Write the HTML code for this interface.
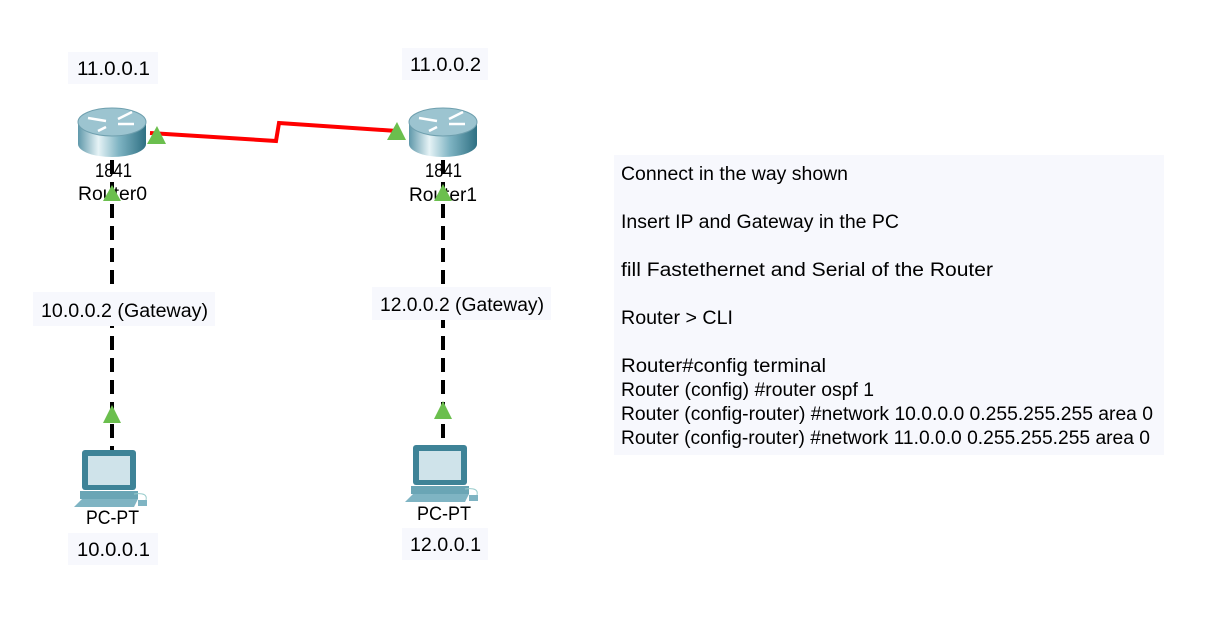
<!DOCTYPE html>
<html><head><meta charset="utf-8"><style>
body{margin:0;background:#fff;width:1220px;height:630px;overflow:hidden}
svg text{font-family:"Liberation Sans",sans-serif;fill:#000}
</style></head><body>
<svg width="1220" height="630" viewBox="0 0 1220 630" xmlns="http://www.w3.org/2000/svg">
<defs>
<linearGradient id="rb" x1="0" x2="1" y1="0" y2="0">
<stop offset="0" stop-color="#5f98aa"/><stop offset="0.3" stop-color="#e6f3f6"/><stop offset="0.6" stop-color="#7fb4c3"/><stop offset="1" stop-color="#2f7083"/>
</linearGradient>
<g id="router">
<path d="M-34,-8 L-34,14 A34,13 0 0 0 34,14 L34,-8 Z" fill="url(#rb)"/>
<ellipse cx="0" cy="-8" rx="34" ry="14" fill="#9cc4d0" stroke="#6e9fae"/>
<g stroke="#fff" stroke-width="2.5" fill="none">
<path d="M-24,-12 L-6,-9"/><path d="M6,-11 L20,-18"/><path d="M22,-6 L6,-6"/><path d="M-6,-3 L-14,1"/>
</g>
</g>
<g id="pc">
<rect x="-28" y="-50" width="54" height="40" rx="3" fill="#3e8397"/>
<rect x="-22" y="-44" width="42" height="29" fill="#cfe3ea"/>
<rect x="-30" y="-9" width="58" height="8" fill="#6aa5b5"/>
<path d="M-36,7 L-28,-1 L28,-1 L24,7 Z" fill="#7fb4c3"/>
<rect x="28" y="0" width="9" height="6" fill="#7fb4c3"/>
<path d="M24,-6 Q38,-8 36,0" stroke="#9cc" fill="none"/>
</g>
</defs>

<polyline points="150,133 276,141 279,123 397,131" fill="none" stroke="#f00" stroke-width="4"/>

<line x1="112" y1="160" x2="112" y2="450" stroke="#000" stroke-width="4" stroke-dasharray="14,8"/>
<line x1="443" y1="160" x2="443" y2="446" stroke="#000" stroke-width="4" stroke-dasharray="14,8"/>

<use href="#router" x="112" y="130"/>
<use href="#router" x="443" y="130"/>

<g font-size="19">
<text x="95" y="177" textLength="37" lengthAdjust="spacingAndGlyphs">1841</text>
<text x="78" y="200" textLength="69" lengthAdjust="spacingAndGlyphs">Router0</text>
<text x="425" y="177" textLength="37" lengthAdjust="spacingAndGlyphs">1841</text>
<text x="409" y="201" textLength="68" lengthAdjust="spacingAndGlyphs">Router1</text>
</g>

<g fill="#6bbf4e">
<polygon points="147,144 157,126 166,144"/>
<polygon points="387,140 397,122 406,140"/>
<polygon points="103,201 112,185 121,201"/>
<polygon points="434,201 443,184 452,201"/>
<polygon points="103,423 112,405 121,423"/>
<polygon points="434,419 443,401 452,419"/>
</g>

<use href="#pc" x="110" y="500"/>
<use href="#pc" x="441" y="495"/>

<g fill="#f7f8fd">
<rect x="68" y="52" width="90" height="32"/>
<rect x="402" y="48" width="86" height="32"/>
<rect x="33" y="292" width="182" height="34"/>
<rect x="372" y="287" width="179" height="33"/>
<rect x="68" y="533" width="90" height="32"/>
<rect x="402" y="528" width="86" height="32"/>
<rect x="614" y="155" width="550" height="300"/>
</g>
<g font-size="19">
<text x="86" y="524" textLength="53" lengthAdjust="spacingAndGlyphs">PC-PT</text>
<text x="417" y="520" textLength="54" lengthAdjust="spacingAndGlyphs">PC-PT</text>
<text x="77" y="75" textLength="73" lengthAdjust="spacingAndGlyphs">11.0.0.1</text>
<text x="410" y="71" textLength="71" lengthAdjust="spacingAndGlyphs">11.0.0.2</text>
<text x="41" y="317" textLength="167" lengthAdjust="spacingAndGlyphs">10.0.0.2 (Gateway)</text>
<text x="380" y="311" textLength="164" lengthAdjust="spacingAndGlyphs">12.0.0.2 (Gateway)</text>
<text x="77" y="556" textLength="73" lengthAdjust="spacingAndGlyphs">10.0.0.1</text>
<text x="410" y="551" textLength="71" lengthAdjust="spacingAndGlyphs">12.0.0.1</text>
<text x="621" y="180" textLength="227" lengthAdjust="spacingAndGlyphs">Connect in the way shown</text>
<text x="621" y="228" textLength="278" lengthAdjust="spacingAndGlyphs">Insert IP and Gateway in the PC</text>
<text x="621" y="276" textLength="372" lengthAdjust="spacingAndGlyphs">fill Fastethernet and Serial of the Router</text>
<text x="621" y="324" textLength="112" lengthAdjust="spacingAndGlyphs">Router &gt; CLI</text>
<text x="621" y="372" textLength="205" lengthAdjust="spacingAndGlyphs">Router#config terminal</text>
<text x="621" y="396" textLength="253" lengthAdjust="spacingAndGlyphs">Router (config) #router ospf 1</text>
<text x="621" y="420" textLength="532" lengthAdjust="spacingAndGlyphs">Router (config-router) #network 10.0.0.0 0.255.255.255 area 0</text>
<text x="621" y="444" textLength="529" lengthAdjust="spacingAndGlyphs">Router (config-router) #network 11.0.0.0 0.255.255.255 area 0</text>
</g>
</svg>
</body></html>
